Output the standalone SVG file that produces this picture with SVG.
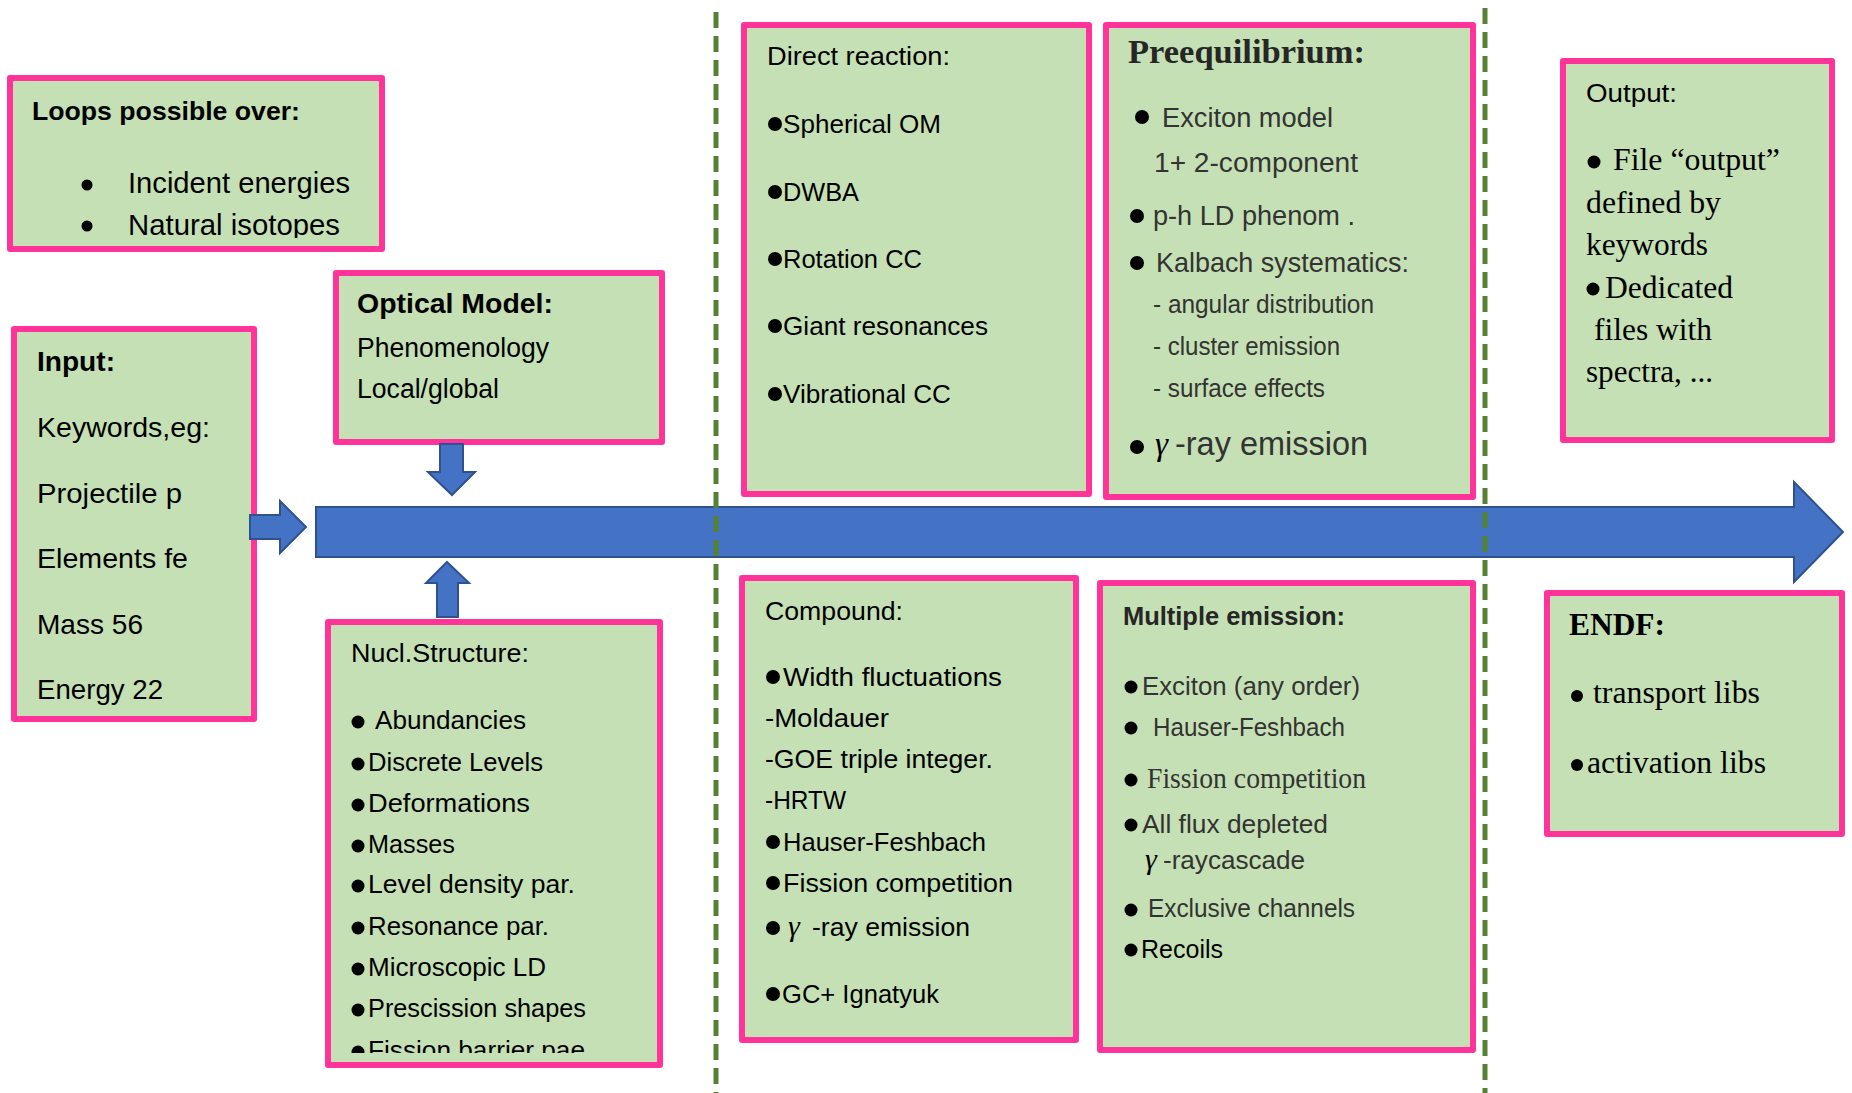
<svg xmlns="http://www.w3.org/2000/svg" width="1852" height="1093" viewBox="0 0 1852 1093">
<defs>
<style>
.box{fill:#C5E0B4;stroke:#FF3399;stroke-width:6;stroke-linejoin:round}
.s{font-family:"Liberation Sans",Arial,sans-serif;fill:#000}
.t{font-family:"Liberation Serif","Times New Roman",serif;fill:#000}
.b{font-weight:bold}
.g{font-family:"Liberation Serif","Times New Roman",serif;font-style:italic;fill:#000}
.dk{fill:#333}
.bul{fill:#000}
.arr{fill:#4472C4;stroke:#2F528F;stroke-width:2;stroke-linejoin:miter}
.dash{stroke:#548235;stroke-width:5;stroke-dasharray:16 8;fill:none}
</style>
<clipPath id="clipLoops"><rect x="13" y="81" width="366" height="157"/></clipPath>
<clipPath id="clipNucl"><rect x="331" y="625" width="326" height="428"/></clipPath>
</defs>
<rect width="1852" height="1093" fill="#fff"/>

<g id="loops">
<rect class="box" x="10" y="78" width="372" height="171"/>
<g clip-path="url(#clipLoops)">
<text class="s b" x="32" y="120" font-size="26.5" textLength="268" lengthAdjust="spacingAndGlyphs">Loops possible over:</text>
<circle class="bul" cx="87" cy="185" r="5.5"/>
<text class="s" x="128" y="193" font-size="29" textLength="222" lengthAdjust="spacingAndGlyphs">Incident energies</text>
<circle class="bul" cx="87" cy="226" r="5.5"/>
<text class="s" x="128" y="235" font-size="29" textLength="212" lengthAdjust="spacingAndGlyphs">Natural isotopes</text>
</g>
</g>

<g id="input">
<rect class="box" x="14" y="329" width="240" height="390"/>
<text class="s b" x="37" y="371" font-size="27" textLength="78" lengthAdjust="spacingAndGlyphs">Input:</text>
<text class="s" x="37" y="437" font-size="28.5" textLength="173" lengthAdjust="spacingAndGlyphs">Keywords,eg:</text>
<text class="s" x="37" y="503" font-size="28.5" textLength="145" lengthAdjust="spacingAndGlyphs">Projectile p</text>
<text class="s" x="37" y="568" font-size="28.5" textLength="151" lengthAdjust="spacingAndGlyphs">Elements fe</text>
<text class="s" x="37" y="634" font-size="28.5" textLength="106" lengthAdjust="spacingAndGlyphs">Mass 56</text>
<text class="s" x="37" y="699" font-size="28.5" textLength="126" lengthAdjust="spacingAndGlyphs">Energy 22</text>
</g>

<g id="optical">
<rect class="box" x="336" y="273" width="326" height="169"/>
<text class="s b" x="357" y="313" font-size="27" textLength="196" lengthAdjust="spacingAndGlyphs">Optical Model:</text>
<text class="s" x="357" y="357" font-size="27" textLength="192" lengthAdjust="spacingAndGlyphs">Phenomenology</text>
<text class="s" x="357" y="398" font-size="27" textLength="142" lengthAdjust="spacingAndGlyphs">Local/global</text>
</g>

<g id="nucl">
<rect class="box" x="328" y="622" width="332" height="443"/>
<g clip-path="url(#clipNucl)">
<text class="s" x="351" y="662" font-size="26" textLength="178" lengthAdjust="spacingAndGlyphs">Nucl.Structure:</text>
<circle class="bul" cx="358" cy="722" r="6.5"/>
<text class="s" x="375" y="729" font-size="25.5" textLength="151" lengthAdjust="spacingAndGlyphs">Abundancies</text>
<circle class="bul" cx="358" cy="764" r="6.5"/>
<text class="s" x="368" y="771" font-size="25.5" textLength="175" lengthAdjust="spacingAndGlyphs">Discrete Levels</text>
<circle class="bul" cx="358" cy="805" r="6.5"/>
<text class="s" x="368" y="812" font-size="25.5" textLength="162" lengthAdjust="spacingAndGlyphs">Deformations</text>
<circle class="bul" cx="358" cy="846" r="6.5"/>
<text class="s" x="368" y="853" font-size="25.5" textLength="87" lengthAdjust="spacingAndGlyphs">Masses</text>
<circle class="bul" cx="358" cy="886" r="6.5"/>
<text class="s" x="368" y="893" font-size="25.5" textLength="207" lengthAdjust="spacingAndGlyphs">Level density par.</text>
<circle class="bul" cx="358" cy="928" r="6.5"/>
<text class="s" x="368" y="935" font-size="25.5" textLength="181" lengthAdjust="spacingAndGlyphs">Resonance par.</text>
<circle class="bul" cx="358" cy="969" r="6.5"/>
<text class="s" x="368" y="976" font-size="25.5" textLength="178" lengthAdjust="spacingAndGlyphs">Microscopic LD</text>
<circle class="bul" cx="358" cy="1010" r="6.5"/>
<text class="s" x="368" y="1017" font-size="25.5" textLength="218" lengthAdjust="spacingAndGlyphs">Prescission shapes</text>
<circle class="bul" cx="358" cy="1052" r="6.5"/>
<text class="s" x="368" y="1059" font-size="25.5" textLength="217" lengthAdjust="spacingAndGlyphs">Fission barrier pae</text>
</g>
</g>

<g id="direct">
<rect class="box" x="744" y="25" width="345" height="469"/>
<text class="s" x="767" y="65" font-size="26.5" textLength="183" lengthAdjust="spacingAndGlyphs">Direct reaction:</text>
<circle class="bul" cx="775" cy="124" r="7"/>
<text class="s" x="783" y="133" font-size="26" textLength="158" lengthAdjust="spacingAndGlyphs">Spherical OM</text>
<circle class="bul" cx="775" cy="192" r="7"/>
<text class="s" x="783" y="201" font-size="26" textLength="76" lengthAdjust="spacingAndGlyphs">DWBA</text>
<circle class="bul" cx="775" cy="259" r="7"/>
<text class="s" x="783" y="268" font-size="26" textLength="139" lengthAdjust="spacingAndGlyphs">Rotation CC</text>
<circle class="bul" cx="775" cy="326" r="7"/>
<text class="s" x="783" y="335" font-size="26" textLength="205" lengthAdjust="spacingAndGlyphs">Giant resonances</text>
<circle class="bul" cx="775" cy="394" r="7"/>
<text class="s" x="783" y="403" font-size="26" textLength="168" lengthAdjust="spacingAndGlyphs">Vibrational CC</text>
</g>

<g id="preequilibrium">
<rect class="box" x="1106" y="25" width="367" height="472"/>
<text class="t b" x="1128" y="63" font-size="34.5" style="fill:#262626" textLength="237" lengthAdjust="spacingAndGlyphs">Preequilibrium:</text>
<circle class="bul" cx="1142" cy="117" r="7"/>
<text class="s dk" x="1162" y="127" font-size="27.5" textLength="171" lengthAdjust="spacingAndGlyphs">Exciton model</text>
<text class="s dk" x="1154" y="172" font-size="27.5" textLength="204" lengthAdjust="spacingAndGlyphs">1+ 2-component</text>
<circle class="bul" cx="1137" cy="216" r="7"/>
<text class="s dk" x="1153" y="225" font-size="27.5" textLength="202" lengthAdjust="spacingAndGlyphs">p-h LD phenom .</text>
<circle class="bul" cx="1137" cy="263" r="7"/>
<text class="s dk" x="1156" y="272" font-size="27.5" textLength="253" lengthAdjust="spacingAndGlyphs">Kalbach systematics:</text>
<text class="s dk" x="1153" y="313" font-size="26.5" textLength="221" lengthAdjust="spacingAndGlyphs">- angular  distribution</text>
<text class="s dk" x="1153" y="355" font-size="26.5" textLength="187" lengthAdjust="spacingAndGlyphs">- cluster emission</text>
<text class="s dk" x="1153" y="397" font-size="26.5" textLength="172" lengthAdjust="spacingAndGlyphs">- surface effects</text>
<circle class="bul" cx="1137" cy="447" r="7"/>
<text class="g" x="1155" y="455" font-size="33">γ</text>
<text class="s dk" x="1175" y="455" font-size="33" textLength="193" lengthAdjust="spacingAndGlyphs">-ray emission</text>
</g>

<g id="output">
<rect class="box" x="1563" y="61" width="269" height="379"/>
<text class="s" x="1586" y="102" font-size="26.5" textLength="91" lengthAdjust="spacingAndGlyphs">Output:</text>
<circle class="bul" cx="1594" cy="162" r="6.5"/>
<text class="t" x="1613" y="170" font-size="31" textLength="167" lengthAdjust="spacingAndGlyphs">File “output”</text>
<text class="t" x="1586" y="213" font-size="31" textLength="135" lengthAdjust="spacingAndGlyphs">defined by</text>
<text class="t" x="1586" y="255" font-size="31" textLength="122" lengthAdjust="spacingAndGlyphs">keywords</text>
<circle class="bul" cx="1593" cy="289" r="6.5"/>
<text class="t" x="1605" y="298" font-size="31" textLength="128" lengthAdjust="spacingAndGlyphs">Dedicated</text>
<text class="t" x="1594" y="340" font-size="31" textLength="118" lengthAdjust="spacingAndGlyphs">files with</text>
<text class="t" x="1586" y="382" font-size="31" textLength="127" lengthAdjust="spacingAndGlyphs">spectra, ...</text>
</g>

<g id="compound">
<rect class="box" x="742" y="578" width="334" height="462"/>
<text class="s" x="765" y="620" font-size="26.5" textLength="138" lengthAdjust="spacingAndGlyphs">Compound:</text>
<circle class="bul" cx="773" cy="677" r="7"/>
<text class="s" x="783" y="686" font-size="26" textLength="219" lengthAdjust="spacingAndGlyphs">Width fluctuations</text>
<text class="s" x="765" y="727" font-size="26" textLength="124" lengthAdjust="spacingAndGlyphs">-Moldauer</text>
<text class="s" x="765" y="768" font-size="26" textLength="228" lengthAdjust="spacingAndGlyphs">-GOE triple integer.</text>
<text class="s" x="765" y="809" font-size="26" textLength="81" lengthAdjust="spacingAndGlyphs">-HRTW</text>
<circle class="bul" cx="773" cy="842" r="7"/>
<text class="s" x="783" y="851" font-size="26" textLength="203" lengthAdjust="spacingAndGlyphs">Hauser-Feshbach</text>
<circle class="bul" cx="773" cy="883" r="7"/>
<text class="s" x="783" y="892" font-size="26" textLength="230" lengthAdjust="spacingAndGlyphs">Fission competition</text>
<circle class="bul" cx="773" cy="928" r="7"/>
<text class="g" x="788" y="936" font-size="30">γ</text>
<text class="s" x="812" y="936" font-size="26" textLength="158" lengthAdjust="spacingAndGlyphs">-ray emission</text>
<circle class="bul" cx="773" cy="994" r="7"/>
<text class="s" x="782" y="1003" font-size="26" textLength="157" lengthAdjust="spacingAndGlyphs">GC+ Ignatyuk</text>
</g>

<g id="multiple">
<rect class="box" x="1100" y="583" width="373" height="467"/>
<text class="s b" x="1123" y="625" font-size="25" style="fill:#262626" textLength="222" lengthAdjust="spacingAndGlyphs">Multiple emission:</text>
<circle class="bul" cx="1131" cy="687" r="6.5"/>
<text class="s dk" x="1142" y="695" font-size="26" textLength="218" lengthAdjust="spacingAndGlyphs">Exciton (any order)</text>
<circle class="bul" cx="1131" cy="728" r="6.5"/>
<text class="s dk" x="1153" y="736" font-size="26" textLength="192" lengthAdjust="spacingAndGlyphs">Hauser-Feshbach</text>
<circle class="bul" cx="1131" cy="780" r="6.5"/>
<text class="t dk" x="1147" y="788" font-size="29" textLength="219" lengthAdjust="spacingAndGlyphs">Fission competition</text>
<circle class="bul" cx="1131" cy="825" r="6.5"/>
<text class="s dk" x="1142" y="833" font-size="26" textLength="186" lengthAdjust="spacingAndGlyphs">All flux depleted</text>
<text class="g" x="1145" y="869" font-size="30">γ</text>
<text class="s dk" x="1163" y="869" font-size="26" textLength="142" lengthAdjust="spacingAndGlyphs">-raycascade</text>
<circle class="bul" cx="1131" cy="910" r="6.5"/>
<text class="s dk" x="1148" y="917" font-size="26" textLength="207" lengthAdjust="spacingAndGlyphs">Exclusive channels</text>
<circle class="bul" cx="1131" cy="950" r="6.5"/>
<text class="s" x="1141" y="958" font-size="26" textLength="82" lengthAdjust="spacingAndGlyphs">Recoils</text>
</g>

<g id="endf">
<rect class="box" x="1547" y="593" width="295" height="241"/>
<text class="t b" x="1569" y="635" font-size="31.5" textLength="96" lengthAdjust="spacingAndGlyphs">ENDF:</text>
<circle class="bul" cx="1577" cy="696" r="6"/>
<text class="t" x="1593" y="703" font-size="31.5" textLength="167" lengthAdjust="spacingAndGlyphs">transport libs</text>
<circle class="bul" cx="1577" cy="765" r="6"/>
<text class="t" x="1587" y="773" font-size="31.5" textLength="179" lengthAdjust="spacingAndGlyphs">activation libs</text>
</g>

<g id="connectors">
<polygon class="arr" points="316,507 1794,507 1794,482 1843,532 1794,582 1794,557 316,557"/>
<polygon class="arr" points="250,515 280,515 280,501 306,527 280,553 280,539 250,539"/>
<polygon class="arr" points="440,444 463,444 463,472 475,472 452,495 428,472 440,472"/>
<polygon class="arr" points="447,562 469,583 458,583 458,617 437,617 437,583 426,583"/>
</g>

<g id="separators">
<line class="dash" x1="716" y1="12" x2="716" y2="1093"/>
<line class="dash" x1="1485" y1="8" x2="1485" y2="1093"/>
</g>
</svg>
